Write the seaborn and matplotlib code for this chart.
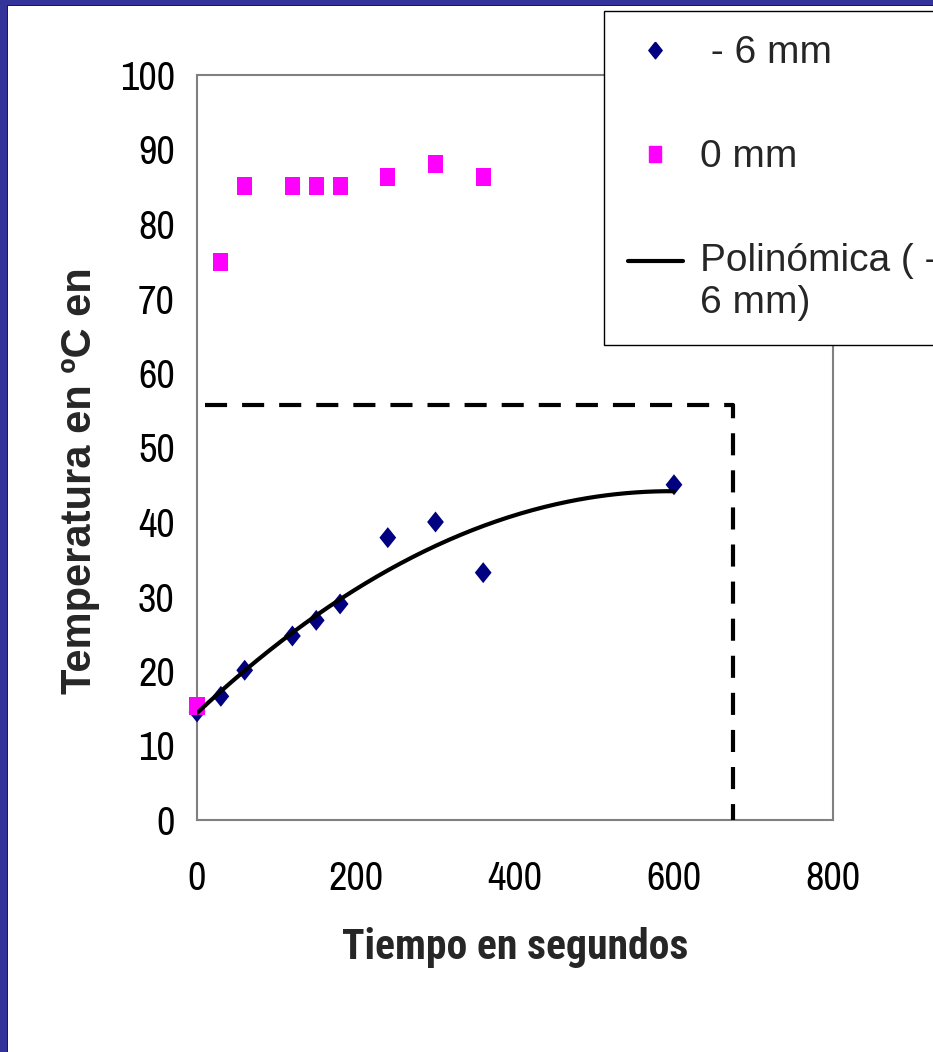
import numpy as np
import pandas as pd
import matplotlib
matplotlib.use("Agg")
import matplotlib.pyplot as plt
from matplotlib.patches import Rectangle
from matplotlib.lines import Line2D
from matplotlib.legend_handler import HandlerLine2D
import seaborn as sns

# ---- data ----
time_neg6 = [0, 30, 60, 120, 150, 180, 240, 300, 360, 600]
temp_neg6 = [14.5, 16.6, 20.1, 24.7, 26.8, 29.0, 37.9, 40.0, 33.2, 45.0]
time_0 = [0, 30, 60, 120, 150, 180, 240, 300, 360]
temp_0 = [15.3, 74.9, 85.1, 85.1, 85.1, 85.1, 86.3, 88.0, 86.3]
guide_x = [10, 674, 674]
guide_y = [55.7, 55.7, 0]
x_ticks = [0, 200, 400, 600, 800]
y_ticks = [0, 10, 20, 30, 40, 50, 60, 70, 80, 90, 100]
series_labels = [" - 6 mm", "0 mm", "Polinómica ( -\n6 mm)"]
x_label = "Tiempo en segundos"
y_label = "Temperatura en ºC en"

# trendline (Excel-style polynomial, order 2) fitted to the -6 mm series
coef = np.polyfit(time_neg6, temp_neg6, 2)
trend_x = np.linspace(min(time_neg6), max(time_neg6), 200)
trend_y = np.polyval(coef, trend_x)

df6 = pd.DataFrame({"t": time_neg6, "T": temp_neg6})
df0 = pd.DataFrame({"t": time_0, "T": temp_0})
dft = pd.DataFrame({"t": trend_x, "T": trend_y})
dfg = pd.DataFrame({"t": guide_x, "T": guide_y})

sns.set_style("white")
NARROW = ["Archivo Narrow", "Liberation Sans", "DejaVu Sans"]
COND_BOLD = ["Roboto Condensed", "Liberation Sans", "DejaVu Sans"]
REGULAR = ["Liberation Sans", "DejaVu Sans"]
plt.rcParams["font.family"] = NARROW

NAVY = "#000080"
MAGENTA = "#FF00FF"
SPINE = "#808080"

diamond = [(0, 1), (0.8, 0), (0, -1), (-0.8, 0), (0, 1)]
square = [(-0.42, -0.5), (0.42, -0.5), (0.42, 0.5), (-0.42, 0.5), (-0.42, -0.5)]

W, H = 933, 1052
fig = plt.figure(figsize=(W / 100, H / 100), dpi=100, facecolor="white")
ax = fig.add_axes([197 / W, 1 - 820 / H, (833 - 197) / W, (820 - 75) / H])

sns.scatterplot(data=df6, x="t", y="T", ax=ax, marker=diamond, s=228,
                color=NAVY, edgecolor="none", linewidth=0, zorder=3, clip_on=False)
sns.scatterplot(data=df0, x="t", y="T", ax=ax, marker=square, s=169,
                color=MAGENTA, edgecolor="none", linewidth=0, zorder=4, clip_on=False)
sns.lineplot(data=dft, x="t", y="T", ax=ax, color="black", linewidth=3,
             zorder=5, sort=False, estimator=None)
sns.lineplot(data=dfg, x="t", y="T", ax=ax, color="black", linewidth=3,
             dashes=False, sort=False, estimator=None, zorder=5)
ax.lines[-1].set_dashes((5.3, 3.6))

ax.set_xlim(0, 800)
ax.set_ylim(0, 100)
ax.set_xticks(x_ticks)
ax.set_yticks(y_ticks)
ax.tick_params(axis="both", labelsize=29, colors="black", length=7, width=1.2,
               direction="out")
ax.tick_params(axis="x", pad=22, color=SPINE)
ax.tick_params(axis="y", pad=9, color="#333333")
for sp in ax.spines.values():
    sp.set_visible(True)
    sp.set_color(SPINE)
    sp.set_linewidth(1.5)

ax.set_xlabel(x_label, fontsize=30, fontweight="bold", family=COND_BOLD)
ax.set_ylabel(y_label, fontsize=30, fontweight="bold", family=REGULAR)
ax.xaxis.set_label_coords(0.5, -0.143)
ax.yaxis.set_label_coords(-0.153, 0.455)


class UpperLineHandler(HandlerLine2D):
    """Put the trendline sample next to the first line of a two-line label."""
    def create_artists(self, legend, orig_handle, xdescent, ydescent, width,
                       height, fontsize, trans):
        arts = super().create_artists(legend, orig_handle, xdescent, ydescent,
                                      width, height, fontsize, trans)
        for a in arts:
            a.set_ydata(np.asarray(a.get_ydata()) + 15.5)
        return arts


handles = [
    Line2D([], [], ls="", marker=diamond, color=NAVY, markersize=12),
    Line2D([], [], ls="", marker=square, color=MAGENTA, markersize=11),
    Line2D([], [], color="black", linewidth=3),
]
leg = ax.legend(handles, series_labels, loc="lower left",
                bbox_to_anchor=(604 / W, 1 - 345 / H), bbox_transform=fig.transFigure,
                borderaxespad=0, frameon=True, fancybox=False, edgecolor="black",
                framealpha=1, labelspacing=1.75, handlelength=1.4,
                handletextpad=0.45, borderpad=0.62,
                prop={"family": REGULAR, "size": 28},
                handler_map={handles[2]: UpperLineHandler()})
leg.get_frame().set_linewidth(1.0)
leg.set_zorder(6)

# slide border (blue top and left strips)
BLUE = "#333399"
fig.add_artist(Rectangle((0, 1 - 5 / H), 1, 5 / H, transform=fig.transFigure,
                         facecolor=BLUE, edgecolor="none", zorder=20))
fig.add_artist(Rectangle((0, 1 - 6 / H), 1, 1 / H, transform=fig.transFigure,
                         facecolor="#1a1a4d", edgecolor="none", zorder=20))
fig.add_artist(Rectangle((0, 0), 7 / W, 1, transform=fig.transFigure,
                         facecolor=BLUE, edgecolor="none", zorder=20))
fig.add_artist(Rectangle((7 / W, 0), 1 / W, 1 - 5 / H, transform=fig.transFigure,
                         facecolor="#1a1a4d", edgecolor="none", zorder=20))

fig.savefig("out.png", dpi=100, facecolor="white")
